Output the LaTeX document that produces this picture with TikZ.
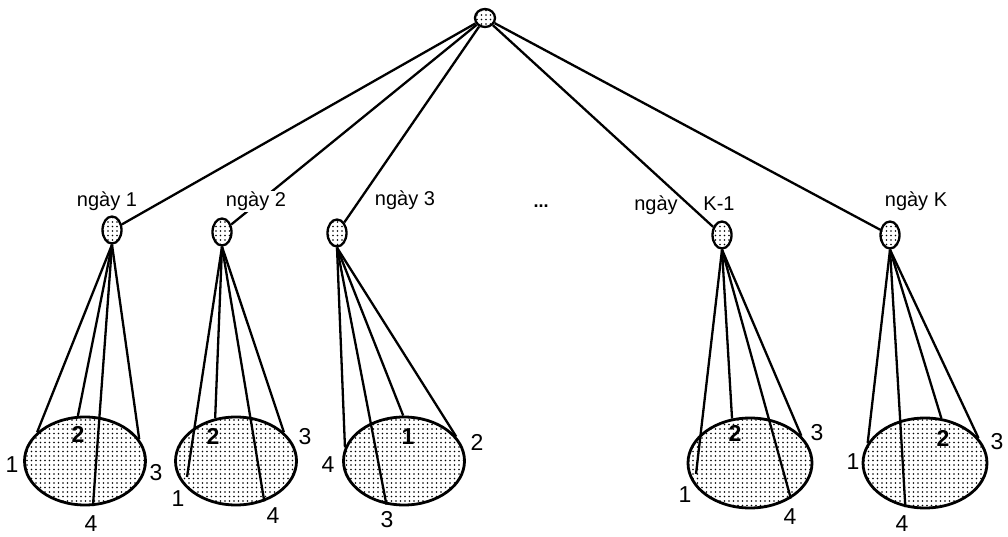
\documentclass[tikz,border=0pt]{standalone}
\usepackage{fontspec}
\setmainfont{Liberation Sans}
\usetikzlibrary{shapes.geometric,patterns.meta}
\begin{document}
\begin{tikzpicture}[x=1pt,y=-1pt,
  ln/.style={line width=2.3pt},
  dotfill/.style={fill=white, postaction={pattern={Dots[distance=4.5pt,radius=0.9pt]}, pattern color=black}},
  small/.style={ellipse, draw, line width=2.3pt, minimum width=19pt, minimum height=27pt, inner sep=0pt, dotfill},
  rootn/.style={ellipse, draw, line width=2.3pt, minimum width=20pt, minimum height=18pt, inner sep=0pt, dotfill},
  big/.style={ellipse, draw, line width=2.8pt, minimum width=121pt, minimum height=88pt, inner sep=0pt, dotfill},
  lab/.style={font=\fontsize{20}{20}\selectfont, inner sep=0pt, anchor=base},
  num/.style={font=\fontsize{23}{23}\selectfont, inner sep=0pt},
  inum/.style={font=\fontsize{23}{23}\selectfont\bfseries, inner sep=0pt}]
\useasboundingbox (0,0) rectangle (1008,537);

% big ellipses
\node[big] (g1) at (85,461) {};
\node[big] (g2) at (236,461) {};
\node[big] (g3) at (404,461) {};
\node[big, minimum width=124pt, minimum height=90pt] (g4) at (750,463) {};
\node[big, minimum width=124pt, minimum height=90pt] (g5) at (925,463) {};

% root and day nodes
\node[rootn] (r) at (485,18) {};
\node[small] (d1) at (112,230) {};
\node[small] (d2) at (222,232) {};
\node[small] (d3) at (337,233) {};
\node[small] (d4) at (722,235) {};
\node[small] (d5) at (890,235) {};

% root connectors
\draw[ln] (r) -- (d1);
\draw[ln] (r) -- (d2);
\draw[ln] (r) -- (d3);
\draw[ln] (r) -- (d4);
\draw[ln] (r) -- (d5);

% free ends inside ellipses
\coordinate (g2e1) at (187,477);
\coordinate (g4e1) at (696,474);

% group 1
\draw[ln] (d1.south) -- (g1.149);
\draw[ln] (d1.south) -- (g1.99);
\draw[ln] (d1.south) -- (g1.280);
\draw[ln] (d1.south) -- (g1.22);
% group 2
\draw[ln] (d2.south) -- (g2e1);
\draw[ln] (d2.south) -- (g2.116);
\draw[ln] (d2.south) -- (g2.305);
\draw[ln] (d2.south) -- (g2.31);
% group 3
\draw[ln] (d3.south) -- (g3.167);
\draw[ln] (d3.south) -- (g3.248);
\draw[ln] (d3.south) -- (g3.91);
\draw[ln] (d3.south) -- (g3.25);
% group K-1
\draw[ln] (d4.south) -- (g4e1);
\draw[ln] (d4.south) -- (g4.112);
\draw[ln] (d4.south) -- (g4.319);
\draw[ln] (d4.south) -- (g4.28);
% group K
\draw[ln] (d5.south) -- (g5.161);
\draw[ln] (d5.south) -- (g5.246);
\draw[ln] (d5.south) -- (g5.70);
\draw[ln] (d5.south) -- (g5.25);

% day labels
\node[lab] (l1) at (107,207) {ngày 1};
\node[lab, fill=white, inner sep=1pt] (l2) at (256,207) {ngày 2};
\node[lab] (l3) at (405,206) {ngày 3};
\node[lab] (l4a) at (656,211) {ngày};
\node[lab] (l4b) at (719,211) {K-1};
\node[lab] (l5) at (916,207) {ngày K};
\node[font=\fontsize{18}{18}\selectfont\bfseries, inner sep=0pt] (dots) at (541,206) {...};

% numbers group 1
\node[num] (n11) at (12,465) {1};
\node[inum] (n12) at (78,434) {2};
\node[num] (n13) at (156,473) {3};
\node[num] (n14) at (91,524) {4};
% group 2
\node[num] (n21) at (178,499) {1};
\node[inum] (n22) at (213,436) {2};
\node[num] (n23) at (305,437) {3};
\node[num] (n24) at (273,516) {4};
% group 3
\node[num] (n34) at (328,465) {4};
\node[num] (n33) at (387,520) {3};
\node[inum] (n31) at (408,437) {1};
\node[num] (n32) at (477,442) {2};
% group K-1
\node[num] (n41) at (685,495) {1};
\node[inum] (n42) at (735,433) {2};
\node[num] (n44) at (790,517) {4};
\node[num] (n43) at (817,433) {3};
% group K
\node[num] (n51) at (853,462) {1};
\node[num] (n54) at (902,524) {4};
\node[inum] (n52) at (943,438) {2};
\node[num] (n53) at (997,442) {3};
\end{tikzpicture}
\end{document}
